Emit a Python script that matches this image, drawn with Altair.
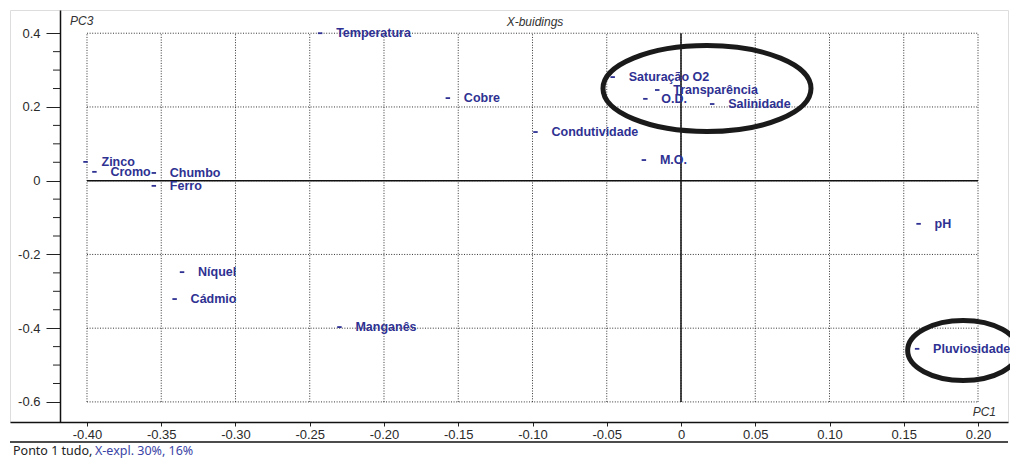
import altair as alt
import pandas as pd

# ---- data ----
names = ["Temperatura", "Cobre", "Condutividade", "Saturação O2", "Transparência",
         "O.D.", "Salinidade", "M.O.", "pH", "Pluviosidade", "Manganês", "Níquel",
         "Cádmio", "Zinco", "Cromo", "Chumbo", "Ferro"]
pc1 = [-0.243, -0.157, -0.098, -0.046, -0.016, -0.024, 0.021, -0.025, 0.160, 0.159,
       -0.230, -0.336, -0.341, -0.401, -0.395, -0.355, -0.355]
pc3 = [0.400, 0.224, 0.132, 0.281, 0.246, 0.222, 0.208, 0.056, -0.117, -0.456,
       -0.397, -0.248, -0.321, 0.051, 0.024, 0.021, -0.014]

x_ticks = [-0.40, -0.35, -0.30, -0.25, -0.20, -0.15, -0.10, -0.05, 0.0, 0.05, 0.10, 0.15, 0.20]
y_major = [-0.6, -0.4, -0.2, 0.0, 0.2, 0.4]
y_minor = [-0.55, -0.5, -0.45, -0.35, -0.3, -0.25, -0.15, -0.1, -0.05,
           0.05, 0.1, 0.15, 0.25, 0.3, 0.35]

# highlighted groups (ellipse centres in data units)
ell_x = [0.0175]
ell_y = [0.250]
ell2_x = [0.190]
ell2_y = [-0.4605]

BLUE = "#2E3192"
FONT = "Liberation Sans"

pts = pd.DataFrame({"name": names, "pc1": pc1, "pc3": pc3})
vgrid = pd.DataFrame({"gx": x_ticks, "y1": [-0.6] * len(x_ticks), "y2": [0.4] * len(x_ticks)})
hgrid = pd.DataFrame({"gy": y_major, "x1": [-0.4] * len(y_major), "x2": [0.2] * len(y_major)})
zero_h = pd.DataFrame({"x1": [-0.4], "x2": [0.2], "y": [0.0]})
zero_v = pd.DataFrame({"x": [0.0], "y1": [-0.6], "y2": [0.4]})
minor = pd.DataFrame({"my": y_minor})
ell1 = pd.DataFrame({"ex": ell_x, "ey": ell_y})
ell2 = pd.DataFrame({"ex": ell2_x, "ey": ell2_y})

xscale = alt.Scale(domain=[-0.45185, 0.22020], nice=False, zero=False)
yscale = alt.Scale(domain=[-0.65446, 0.46298], nice=False, zero=False)

xlab = ("abs(datum.value) < 1e-9 ? '0' : (datum.value < 0 ? '-' : '') + format(abs(datum.value), '.2f')")
ylab = ("abs(datum.value) < 1e-9 ? '0' : (datum.value < 0 ? '-' : '') + format(abs(datum.value), '.1f')")

xaxis = alt.Axis(values=x_ticks, labelExpr=xlab, tickSize=4, tickColor="#222", tickWidth=1,
                 domainColor="#111", domainWidth=1.5, labelFont=FONT, labelFontSize=13,
                 labelColor="#2a2a2a", labelPadding=2, grid=False, title=None)
yaxis = alt.Axis(values=y_major, labelExpr=ylab, tickSize=14, tickColor="#222", tickWidth=1,
                 domainColor="#111", domainWidth=1.5, labelFont=FONT, labelFontSize=13,
                 labelColor="#2a2a2a", labelPadding=6, grid=False, offset=-50, title=None)

vg = alt.Chart(vgrid).mark_rule(color="#333", strokeWidth=1, strokeDash=[1, 1.6]).encode(
    x=alt.X("gx:Q", scale=xscale, axis=xaxis),
    y=alt.Y("y1:Q", scale=yscale, axis=yaxis),
    y2="y2:Q",
)
hg = alt.Chart(hgrid).mark_rule(color="#333", strokeWidth=1, strokeDash=[1, 1.6]).encode(
    x=alt.X("x1:Q", scale=xscale, axis=xaxis),
    x2="x2:Q",
    y=alt.Y("gy:Q", scale=yscale, axis=yaxis),
)
zh = alt.Chart(zero_h).mark_rule(color="#111", strokeWidth=1.5).encode(
    x=alt.X("x1:Q", scale=xscale, axis=xaxis), x2="x2:Q",
    y=alt.Y("y:Q", scale=yscale, axis=yaxis),
)
zv = alt.Chart(zero_v).mark_rule(color="#111", strokeWidth=1.5).encode(
    x=alt.X("x:Q", scale=xscale, axis=xaxis),
    y=alt.Y("y1:Q", scale=yscale, axis=yaxis), y2="y2:Q",
)
mt = alt.Chart(minor).mark_rule(color="#222", strokeWidth=1).encode(
    x=alt.value(43), x2=alt.value(50),
    y=alt.Y("my:Q", scale=yscale, axis=yaxis),
)
dashes = alt.Chart(pts).mark_point(shape="stroke", size=20, strokeWidth=1.8, color=BLUE,
                                   filled=False, opacity=1).encode(
    x=alt.X("pc1:Q", scale=xscale, axis=xaxis),
    y=alt.Y("pc3:Q", scale=yscale, axis=yaxis),
)
labels = alt.Chart(pts).mark_text(align="left", baseline="middle", dx=16, font=FONT,
                                  fontSize=12.5, fontWeight="bold", color=BLUE).encode(
    x=alt.X("pc1:Q", scale=xscale, axis=xaxis),
    y=alt.Y("pc3:Q", scale=yscale, axis=yaxis),
    text="name:N",
)

def ellipse_path(r):
    k = 0.5523
    return (f"M -1 0 C -1 {-k*r:.4f} {-k:.4f} {-r:.4f} 0 {-r:.4f} "
            f"C {k:.4f} {-r:.4f} 1 {-k*r:.4f} 1 0 "
            f"C 1 {k*r:.4f} {k:.4f} {r:.4f} 0 {r:.4f} "
            f"C {-k:.4f} {r:.4f} -1 {k*r:.4f} -1 0 Z")

e1 = alt.Chart(ell1).mark_point(shape=ellipse_path(0.413), size=208 * 208, filled=False,
                                color="#1a1a1a", strokeWidth=5, opacity=1).encode(
    x=alt.X("ex:Q", scale=xscale, axis=xaxis),
    y=alt.Y("ey:Q", scale=yscale, axis=yaxis),
)
e2 = alt.Chart(ell2).mark_point(shape=ellipse_path(0.54), size=111 * 111, filled=False,
                                color="#1a1a1a", strokeWidth=5, opacity=1).encode(
    x=alt.X("ex:Q", scale=xscale, axis=xaxis),
    y=alt.Y("ey:Q", scale=yscale, axis=yaxis),
)

base_txt = pd.DataFrame({"t": [0]})
bottom_rule = alt.Chart(base_txt).mark_rule(color="#111", strokeWidth=1.5).encode(
    x=alt.value(0), x2=alt.value(998), y=alt.value(432))

def label(txt, x, y, align="left", italic=True, color="#333", font=FONT, size=12):
    return alt.Chart(base_txt).mark_text(
        text=txt, align=align, baseline="middle", font=font, fontSize=size,
        fontStyle="italic" if italic else "normal", color=color,
    ).encode(x=alt.value(x), y=alt.value(y))

t_pc3 = label("PC3", 60, 11)
t_title = label("X-buidings", 525, 12, align="center")
t_pc1 = label("PC1", 986, 402, align="right")
t_b1 = label("Ponto 1 tudo,", 3, 441, italic=False, color="#222", font="Noto Sans", size=12.5)
t_b2 = label("X-expl. 30%, 16%", 85, 441, italic=False, color="#3B44A6", font="Noto Sans", size=12.5)

chart = alt.layer(
    vg, hg, zh, zv, mt, e1, e2, dashes, labels, bottom_rule,
    t_pc3, t_title, t_pc1, t_b1, t_b2,
).properties(
    width=998, height=412,
    autosize=alt.AutoSizeParams(type="none"),
    padding={"left": 10, "top": 10, "right": 2, "bottom": 36},
).configure_view(stroke=None).configure(background="white")

chart.save("out.html", embed_options={"renderer": "svg", "actions": False})
